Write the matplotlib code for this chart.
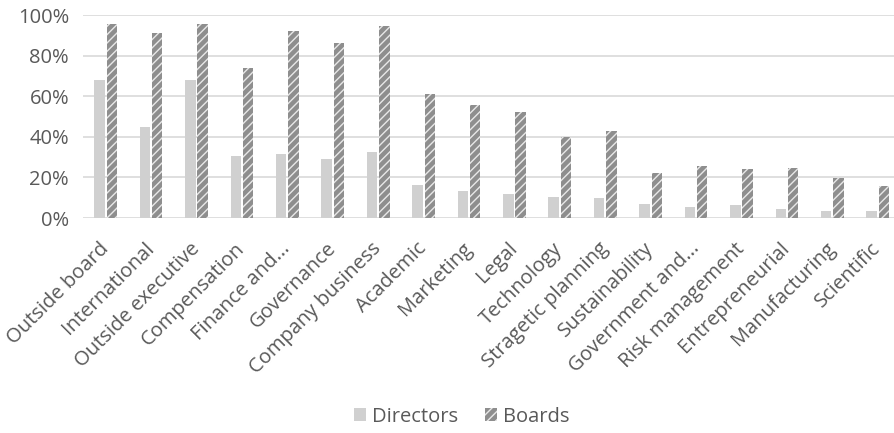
import matplotlib.pyplot as plt
import matplotlib.transforms as mtransforms
import numpy as np
from matplotlib.patches import Patch
from matplotlib.ticker import PercentFormatter

plt.rcParams['font.family'] = ['Open Sans', 'DejaVu Sans']

categories = ['Outside board', 'International', 'Outside executive', 'Compensation',
              'Finance and...', 'Governance', 'Company business', 'Academic',
              'Marketing', 'Legal', 'Technology', 'Stragetic planning',
              'Sustainability', 'Government and...', 'Risk management',
              'Entrepreneurial', 'Manufacturing', 'Scientific']
directors = [68, 45, 68, 30.5, 31.4, 29.2, 32.7, 16.3, 13.3, 11.7, 10.2, 10.0,
             6.7, 5.3, 6.3, 4.6, 3.6, 3.4]
boards = [95.4, 91, 95.4, 73.7, 92.3, 86.4, 94.6, 61, 55.7, 52, 39.8, 42.9,
          22.2, 25.8, 24.3, 24.8, 19.5, 15.8]

dir_color = '#d0d0d0'
board_color = '#8e8e8e'
text_color = '#595959'
grid_color = '#d9d9d9'

fig = plt.figure(figsize=(8.95, 4.33), dpi=100)
ax = fig.add_axes([83 / 895, 215 / 433, 812 / 895, 203 / 433])

x = np.arange(len(categories))
w = 0.23
ax.bar(x - 0.135, directors, width=w, color=dir_color, linewidth=0, zorder=3)
ax.bar(x + 0.135, boards, width=w, color=board_color, edgecolor='#e8e8e8',
       hatch='////', linewidth=0, zorder=3)

ax.set_ylim(0, 100)
ax.set_xlim(-0.5, 17.38)
ax.set_yticks(np.arange(0, 101, 20))
ax.yaxis.set_major_formatter(PercentFormatter(decimals=0))
ax.grid(axis='y', color=grid_color, linewidth=1.2, zorder=0)
for s in ax.spines.values():
    s.set_visible(False)
ax.tick_params(length=0, labelsize=14.5, colors=text_color)
ax.tick_params(axis='y', pad=10)
ax.tick_params(axis='x', pad=12)
ax.set_xticks(x)
ax.set_xticklabels(categories, rotation=45, ha='right', rotation_mode='anchor')

# nudge the rotated category labels left a little
shift = mtransforms.ScaledTranslation(-7 / 100, -4 / 100, fig.dpi_scale_trans)
for lbl in ax.get_xticklabels():
    lbl.set_transform(lbl.get_transform() + shift)

handles = [Patch(facecolor=dir_color, linewidth=0),
           Patch(facecolor=board_color, edgecolor='#e8e8e8', hatch='////', linewidth=0)]
leg = fig.legend(handles, ['Directors', 'Boards'], loc='center',
                 bbox_to_anchor=(0.516, 0.037), ncol=2, frameon=False,
                 fontsize=14.5, handlelength=0.6, handleheight=0.6,
                 handletextpad=0.3, columnspacing=1.3)
for t in leg.get_texts():
    t.set_color(text_color)

fig.savefig('out.png', dpi=100)
